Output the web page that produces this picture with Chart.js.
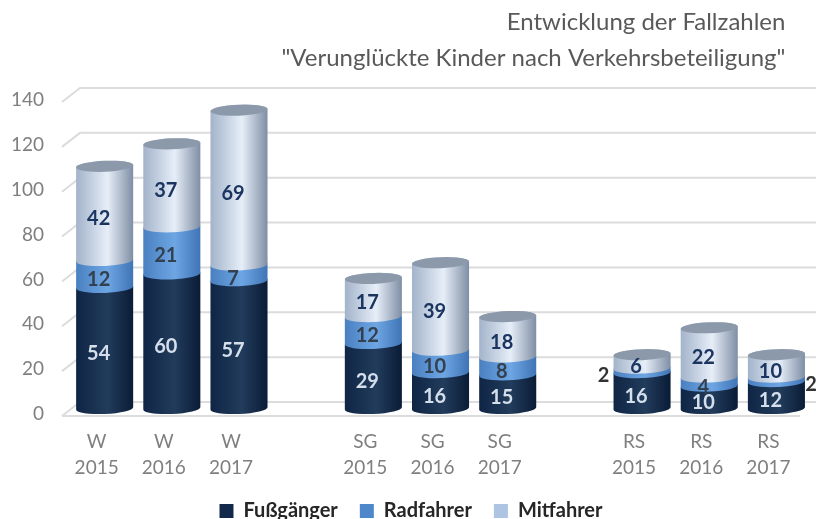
<!DOCTYPE html>
<html>
<head>
<meta charset="utf-8">
<style>
  html, body { margin: 0; background: #fff; }
  #wrap { width: 816px; height: 519px; }
  canvas { filter: blur(0.5px); }
</style>
<script src="https://cdn.jsdelivr.net/npm/chart.js@4"></script>
</head>
<body>
<div id="wrap"><canvas id="chart"></canvas></div>
<script>
const categories = [['W', '2015'], ['W', '2016'], ['W', '2017'], '', ['SG', '2015'], ['SG', '2016'], ['SG', '2017'], '', ['RS', '2015'], ['RS', '2016'], ['RS', '2017']];
const fussgaenger = [54, 60, 57, null, 29, 16, 15, null, 16, 10, 12];
const radfahrer = [12, 21, 7, null, 12, 10, 8, null, 2, 4, 2];
const mitfahrer = [42, 37, 69, null, 17, 39, 18, null, 6, 22, 10];
const titleLines = ['Entwicklung der Fallzahlen', '"Verunglückte Kinder nach Verkehrsbeteiligung"'];

const FONT = 'Lato';
const TILT = -0.04;
const RY = 5.5;
const DEPTH_X = 18;
const DEPTH_Y = 14;

// left edge, highlight, right edge of each cylinder
const shades = [
  ['#0f2545', '#223c5c', '#0a1c36'],
  ['#4a80c0', '#6ea6e4', '#3f74b5'],
  ['#a3b3ca', '#e6eef8', '#7f8ea5']
];
const labelColors = ['#d5dfec', '#33404f', '#1b3560'];

function drawCylinder(ctx, bar, shade, isTop) {
  const rx = bar.width / 2;
  const grad = ctx.createLinearGradient(bar.x - rx, 0, bar.x + rx, 0);
  grad.addColorStop(0, shade[0]);
  grad.addColorStop(0.55, shade[1]);
  grad.addColorStop(1, shade[2]);
  ctx.fillStyle = grad;
  ctx.beginPath();
  ctx.ellipse(bar.x, bar.base - RY, rx, RY, TILT, 0, Math.PI);
  ctx.ellipse(bar.x, bar.y - RY, rx, RY, TILT, Math.PI, Math.PI * 2);
  ctx.closePath();
  ctx.fill();
  if (isTop) {
    ctx.fillStyle = '#8b99ab';
    ctx.beginPath();
    ctx.ellipse(bar.x, bar.y - RY, rx, RY, TILT, 0, Math.PI * 2);
    ctx.fill();
  }
}

const cylinders = {
  id: 'cylinders',
  afterLayout(chart) {
    // legend sits a bit right of the canvas centre
    chart.legend.left += 10;
    chart.legend.right += 10;
  },
  beforeDatasetsDraw(chart) {
    const { ctx, scales } = chart;
    // back wall lines, shifted up and right from the front plane
    ctx.save();
    ctx.strokeStyle = '#dcdcdc';
    ctx.lineWidth = 2;
    scales.y.ticks.forEach(t => {
      const y = scales.y.getPixelForValue(t.value) + 2;
      ctx.beginPath();
      ctx.moveTo(62, y);
      ctx.lineTo(62 + DEPTH_X, y - DEPTH_Y);
      ctx.lineTo(816, y - DEPTH_Y);
      ctx.stroke();
      if (t.value === 0) {
        ctx.beginPath();
        ctx.moveTo(62, y);
        ctx.lineTo(800, y);
        ctx.stroke();
      }
    });
    ctx.restore();

    // bottom segments first so the upper ones sit on top of them
    chart.data.datasets.forEach((ds, i) => {
      const meta = chart.getDatasetMeta(i);
      meta.data.forEach((el, j) => {
        if (ds.data[j] === null) return;
        const bar = el.getProps(['x', 'y', 'base', 'width'], true);
        drawCylinder(ctx, bar, shades[i], i === chart.data.datasets.length - 1);
      });
    });
  },
  beforeDatasetDraw() {
    return false;
  },
  afterDatasetsDraw(chart) {
    const { ctx } = chart;
    ctx.save();
    ctx.font = 'bold 20px ' + FONT;
    ctx.textAlign = 'center';
    ctx.textBaseline = 'middle';
    chart.data.datasets.forEach((ds, i) => {
      const meta = chart.getDatasetMeta(i);
      meta.data.forEach((el, j) => {
        const v = ds.data[j];
        if (v === null) return;
        const bar = el.getProps(['x', 'y', 'base', 'width'], true);
        let x = bar.x - 6;
        let y = (bar.y + bar.base) / 2;
        ctx.fillStyle = labelColors[i];
        // the two thin RS slices get their number beside the bar
        if (v <= 2) {
          x = j === 8 ? bar.x - bar.width / 2 - 10 : bar.x + bar.width / 2 + 6;
          ctx.fillStyle = '#333';
        }
        ctx.fillText(v, x, y);
      });
    });
    ctx.restore();
  }
};

new Chart(document.getElementById('chart'), {
  type: 'bar',
  data: {
    labels: categories,
    datasets: [
      { label: 'Fußgänger', data: fussgaenger, backgroundColor: '#12294b' },
      { label: 'Radfahrer', data: radfahrer, backgroundColor: '#4f87cb' },
      { label: 'Mitfahrer', data: mitfahrer, backgroundColor: '#adc4e2' }
    ]
  },
  plugins: [cylinders],
  options: {
    responsive: true,
    maintainAspectRatio: false,
    animation: false,
    datasets: { bar: { categoryPercentage: 1, barPercentage: 0.85 } },
    layout: { padding: { left: -8, right: 6, top: 4, bottom: -12 } },
    plugins: {
      tooltip: { enabled: false },
      title: {
        display: true,
        align: 'end',
        text: [titleLines[0] + '\u00a0\u00a0\u00a0\u00a0', titleLines[1] + '\u00a0\u00a0\u00a0\u00a0'],
        color: '#595959',
        font: { family: FONT, size: 24, weight: 'normal', lineHeight: 1.5 },
        padding: { top: 0, bottom: 24 }
      },
      legend: {
        position: 'bottom',
        labels: {
          color: '#262626',
          boxWidth: 14,
          boxHeight: 14,
          padding: 22,
          font: { family: FONT, size: 20, weight: 'bold' }
        }
      }
    },
    scales: {
      x: {
        stacked: true,
        grid: { display: false },
        border: { display: false },
        afterFit(scale) {
          scale.height = 65;
        },
        ticks: {
          color: '#7f7f7f',
          labelOffset: -8,
          maxRotation: 0,
          autoSkip: false,
          padding: 7,
          font: { family: FONT, size: 19, lineHeight: 1.37 }
        }
      },
      y: {
        stacked: true,
        min: 0,
        max: 140,
        grid: { display: false },
        border: { display: false },
        ticks: {
          stepSize: 20,
          color: '#7f7f7f',
          padding: 19,
          font: { family: FONT, size: 19 }
        }
      }
    }
  }
});
</script>
</body>
</html>
